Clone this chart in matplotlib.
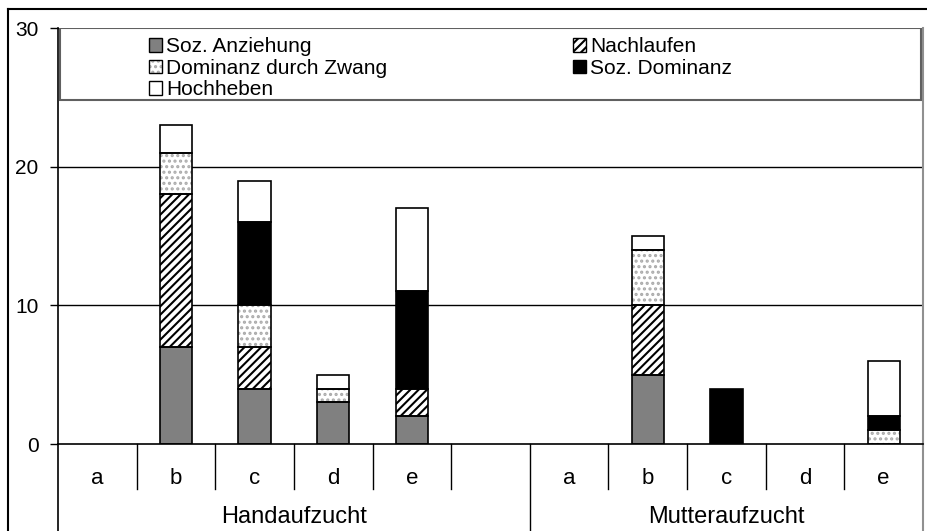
import matplotlib
matplotlib.use("Agg")
import matplotlib.pyplot as plt
import matplotlib.transforms as mtransforms
from matplotlib.patches import Patch, Rectangle
from matplotlib.lines import Line2D
from matplotlib.legend_handler import HandlerTuple

plt.rcParams["font.family"] = ["Liberation Sans", "DejaVu Sans"]
plt.rcParams["hatch.linewidth"] = 1.5

# data: 11 slots (Handaufzucht a-e, empty slot, Mutteraufzucht a-e)
letters = ["a", "b", "c", "d", "e", "", "a", "b", "c", "d", "e"]
groups = ["Handaufzucht", "Mutteraufzucht"]
soz_anziehung = [0, 7, 4, 3, 2, 0, 0, 5, 0, 0, 0]
nachlaufen = [0, 11, 3, 0, 2, 0, 0, 5, 0, 0, 0]
dominanz_zwang = [0, 3, 3, 1, 0, 0, 0, 4, 0, 0, 1]
soz_dominanz = [0, 0, 6, 0, 7, 0, 0, 0, 4, 0, 1]
hochheben = [0, 2, 3, 1, 6, 0, 0, 1, 0, 0, 4]

series = [
    ("Soz. Anziehung", soz_anziehung, "#808080", None, "#808080"),
    ("Nachlaufen", nachlaufen, "white", "////", "black"),
    ("Dominanz durch Zwang", dominanz_zwang, "white", "...", "#aaaaaa"),
    ("Soz. Dominanz", soz_dominanz, "black", None, "black"),
    ("Hochheben", hochheben, "white", None, "white"),
]

W, H = 928, 531
fig = plt.figure(figsize=(W / 100, H / 100), dpi=100)
ax = fig.add_axes([58 / W, (H - 444) / H, (923 - 58) / W, (444 - 28) / H])

x = list(range(len(letters)))
bottom = [0] * len(x)
handles = {}
for name, vals, face, hatch, hcol in series:
    xs = [xi for xi, v in zip(x, vals) if v > 0]
    hs = [v for v in vals if v > 0]
    bs = [b for b, v in zip(bottom, vals) if v > 0]
    ax.bar(xs, hs, bottom=bs, width=0.41, color=face, hatch=hatch,
           edgecolor=hcol, linewidth=0, zorder=2)
    ax.bar(xs, hs, bottom=bs, width=0.41, fill=False,
           edgecolor="black", linewidth=1.2, zorder=3)
    bottom = [b + v for b, v in zip(bottom, vals)]
    handles[name] = (Patch(facecolor=face, hatch=hatch, edgecolor=hcol, linewidth=0),
                     Patch(fill=False, edgecolor="black", linewidth=1.0))

ax.set_xlim(-0.5, 10.5)
ax.set_ylim(0, 30)
ax.set_yticks([0, 10, 20, 30])
ax.tick_params(axis="y", length=6, width=1, pad=8, labelsize=15)
ax.set_xticks([])
for yv in [10, 20, 30]:
    ax.axhline(yv, color="black", linewidth=1, zorder=1)
ax.spines["top"].set_visible(False)
ax.spines["bottom"].set_linewidth(1.2)
ax.spines["left"].set_linewidth(1.2)
ax.spines["right"].set_color("#909090")
ax.spines["right"].set_linewidth(1.5)

# legend box
ax.add_patch(Rectangle((0.002, (444 - 100) / 416), 0.996, 1 - (444 - 100) / 416,
                       transform=ax.transAxes, facecolor="white",
                       edgecolor="#606060", linewidth=1.5, zorder=4))

col1 = ["Soz. Anziehung", "Dominanz durch Zwang", "Hochheben"]
col2 = ["Nachlaufen", "Soz. Dominanz"]
for names, x0 in [(col1, 139), (col2, 563)]:
    leg = fig.legend([handles[n] for n in names], names,
                     loc="upper left", bbox_to_anchor=(x0 / W, 1 - 27 / H),
                     frameon=False, borderpad=0, fontsize=15,
                     handlelength=0.6, handleheight=0.6, handletextpad=0.2,
                     labelspacing=0.12,
                     handler_map={tuple: HandlerTuple(ndivide=1)})
    leg.set_zorder(5)

# category axis below the plot
trans = mtransforms.blended_transform_factory(ax.transData, ax.transAxes)
low = -(489 - 444) / 416
floor = -(H - 444) / 416
for k in range(1, 11):
    if k == 6:
        continue
    ax.plot([k - 0.5, k - 0.5], [0, low], color="black", linewidth=1,
            transform=trans, clip_on=False)
ax.plot([5.5, 5.5], [0, floor], color="black", linewidth=1,
        transform=trans, clip_on=False)
ax.plot([-0.5, -0.5], [0, floor], color="black", linewidth=1.2,
        transform=trans, clip_on=False)
ax.plot([10.5, 10.5], [0, floor], color="#909090", linewidth=1.5,
        transform=trans, clip_on=False)
for xi, lab in zip(x, letters):
    ax.text(xi, -(478 - 444) / 416, lab, transform=trans, ha="center",
            va="center", fontsize=16)
ax.text(2.5, -(517 - 444) / 416, groups[0], transform=trans, ha="center",
        va="center", fontsize=17)
ax.text(8, -(517 - 444) / 416, groups[1], transform=trans, ha="center",
        va="center", fontsize=17)

# outer chart frame
fig.add_artist(Line2D([8 / W, 1], [1 - 9 / H, 1 - 9 / H], color="black", linewidth=1.5))
fig.add_artist(Line2D([8 / W, 8 / W], [0, 1 - 9 / H], color="black", linewidth=1.5))

fig.savefig("out.png", dpi=100)
